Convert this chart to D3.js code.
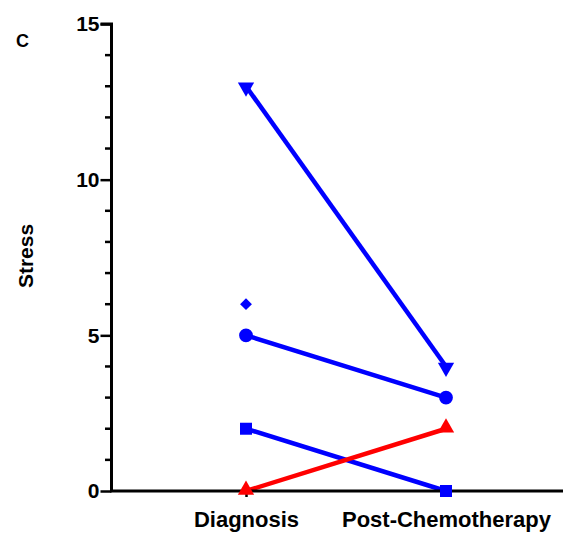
<!DOCTYPE html>
<html>
<head>
<meta charset="utf-8">
<script src="https://cdn.jsdelivr.net/npm/d3@7"></script>
<style>
  body { margin: 0; background: #fff; }
  text { font-family: Arial, "Liberation Sans", sans-serif; font-weight: bold; }
</style>
</head>
<body>
<div id="chart"></div>
<script>
var categories = ["Diagnosis", "Post-Chemotherapy"];
var yTicks = [0, 5, 10, 15];
var minorTicks = [1, 2, 3, 4, 6, 7, 8, 9, 11, 12, 13, 14];

// one array per subject: [diagnosis, post-chemo], null = missing
var subjectTriDown = [13, 4];
var subjectCircle = [5, 3];
var subjectDiamond = [6, null];
var subjectSquare = [2, 0];
var subjectTriUp = [0, 2];

var series = [
    { values: subjectTriDown, symbol: "tridown", color: "#0000ff" },
    { values: subjectCircle, symbol: "circle", color: "#0000ff" },
    { values: subjectDiamond, symbol: "diamond", color: "#0000ff" },
    { values: subjectSquare, symbol: "square", color: "#0000ff" },
    { values: subjectTriUp, symbol: "triup", color: "#ff0000" }
];

var svgWidth = 563;
var svgHeight = 534;

var svg = d3.select("#chart").append("svg")
    .attr("width", svgWidth)
    .attr("height", svgHeight);

var x = d3.scalePoint().domain(categories).range([112, 580]).padding(0.67);
var y = d3.scaleLinear().domain([0, 15]).range([491, 24]);

// lines
var line = d3.line()
    .defined(function (d) { return d != null; })
    .x(function (d, i) { return x(categories[i]); })
    .y(function (d) { return y(d); });

svg.selectAll("path.series").data(series).enter()
    .append("path")
    .attr("class", "series")
    .attr("d", function (d) { return line(d.values); })
    .attr("fill", "none")
    .attr("stroke", function (d) { return d.color; })
    .attr("stroke-width", 4.5);

// axes
var yAxis = d3.axisLeft(y).tickValues(yTicks).tickSize(11).tickPadding(1);
var gy = svg.append("g").attr("transform", "translate(111.5,0)").call(yAxis);
gy.select(".domain").attr("stroke-width", 3).attr("d", "M-11," + y(15) + "H0V" + y(0));
gy.selectAll(".tick line").attr("stroke-width", 2.5);
gy.selectAll(".tick text").style("font-size", "21px").attr("fill", "#000");

// minor ticks
svg.append("g").selectAll("line.minor").data(minorTicks).enter()
    .append("line")
    .attr("class", "minor")
    .attr("x1", 105)
    .attr("x2", 112)
    .attr("y1", function (d) { return y(d); })
    .attr("y2", function (d) { return y(d); })
    .attr("stroke", "#000")
    .attr("stroke-width", 2.5);

var xAxis = d3.axisBottom(x).tickSize(6).tickPadding(14);
var gx = svg.append("g").attr("transform", "translate(0," + y(0) + ")").call(xAxis);
gx.select(".domain").attr("stroke-width", 3).attr("d", "M110,0H563");
gx.selectAll(".tick line").attr("stroke-width", 2.5);
gx.selectAll(".tick text").style("font-size", "22px").attr("fill", "#000");

// markers
var symbolPath = {
    circle: d3.symbol().type(d3.symbolCircle).size(150)(),
    square: d3.symbol().type(d3.symbolSquare).size(144)(),
    diamond: d3.symbol().type(d3.symbolSquare).size(70)(),
    triup: d3.symbol().type(d3.symbolTriangle).size(115)(),
    tridown: d3.symbol().type(d3.symbolTriangle).size(115)()
};

series.forEach(function (s) {
    s.values.forEach(function (v, i) {
        if (v == null) return;
        var cx = x(categories[i]);
        var cy = y(v);
        var rot = "";
        if (s.symbol == "tridown") rot = " rotate(180)";
        if (s.symbol == "diamond") rot = " rotate(45)";
        var dy = s.symbol == "triup" ? -1 : (s.symbol == "tridown" ? 1 : 0);
        svg.append("path")
            .attr("d", symbolPath[s.symbol])
            .attr("transform", "translate(" + cx + "," + (cy + dy) + ")" + rot)
            .attr("fill", s.color);
    });
});

// labels
svg.append("text")
    .attr("transform", "translate(33,256) rotate(-90)")
    .attr("text-anchor", "middle")
    .style("font-size", "21px")
    .text("Stress");

svg.append("text")
    .attr("x", 16)
    .attr("y", 47)
    .style("font-size", "18px")
    .text("C");
</script>
</body>
</html>
